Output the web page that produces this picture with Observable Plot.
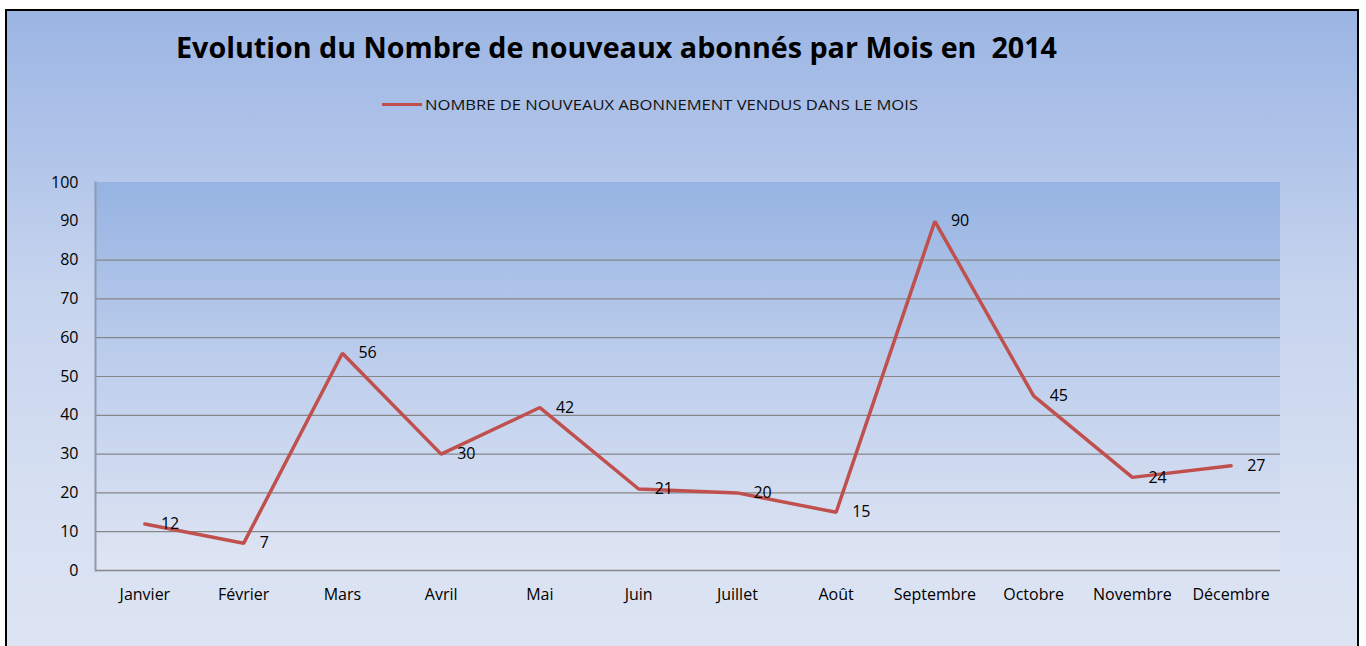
<!DOCTYPE html>
<html>
<head>
<meta charset="utf-8">
<script src="https://cdn.jsdelivr.net/npm/d3@7"></script>
<script src="https://cdn.jsdelivr.net/npm/@observablehq/plot@0.6"></script>
<style>
  html, body { margin: 0; padding: 0; background: #ffffff; width: 1366px; height: 646px; overflow: hidden; }
  #frame {
    position: absolute; left: 5px; top: 9px; width: 1350px; height: 700px;
    border: 2px solid #000;
    background: linear-gradient(to bottom, #9bb5e3 0%, #b3c6ea 22%, #c6d4ee 40%, #d7e0f2 70%, #dfe6f4 100%);
  }
  #chart { position: absolute; left: 0; top: 0; }
  #title {
    position: absolute; left: 176px; top: 33px; white-space: pre;
    font-family: "Open Sans", sans-serif; font-weight: bold; font-size: 28px; line-height: 28px;
    color: #000; transform-origin: left center;
  }
  #legend-line { position: absolute; left: 382px; top: 102.5px; width: 40px; height: 3px; background: #c0504d; }
  #legend-text {
    position: absolute; left: 425px; top: 97px; white-space: pre;
    font-family: "Open Sans", sans-serif; font-size: 15px; line-height: 15px; color: #111;
    transform-origin: left center;
  }
</style>
</head>
<body>
<div id="frame"></div>
<div id="chart"></div>
<div id="title">Evolution du Nombre de nouveaux abonnés par Mois en  2014</div>
<div id="legend-line"></div>
<div id="legend-text">NOMBRE DE NOUVEAUX ABONNEMENT VENDUS DANS LE MOIS</div>
<script>
const months = ["Janvier", "Février", "Mars", "Avril", "Mai", "Juin", "Juillet", "Août", "Septembre", "Octobre", "Novembre", "Décembre"];
const values = [12, 7, 56, 30, 42, 21, 20, 15, 90, 45, 24, 27];
const yTicks = [0, 10, 20, 30, 40, 50, 60, 70, 80, 90, 100];
const gridTicks = [10, 20, 30, 40, 50, 60, 70, 80];
const seriesColor = "#c0504d";

const data = months.map((m, i) => ({month: m, value: values[i]}));

function plotBackground(index, scales, values, dims) {
  const ns = "http://www.w3.org/2000/svg";
  const g = document.createElementNS(ns, "g");
  const defs = document.createElementNS(ns, "defs");
  const grad = document.createElementNS(ns, "linearGradient");
  grad.setAttribute("id", "plotAreaGrad");
  grad.setAttribute("x1", "0"); grad.setAttribute("y1", "0");
  grad.setAttribute("x2", "0"); grad.setAttribute("y2", "1");
  [["0%", "#96b3e2"], ["45%", "#bccdec"], ["100%", "#dfe5f3"]].forEach(([o, c]) => {
    const s = document.createElementNS(ns, "stop");
    s.setAttribute("offset", o); s.setAttribute("stop-color", c);
    grad.appendChild(s);
  });
  defs.appendChild(grad);
  g.appendChild(defs);
  const r = document.createElementNS(ns, "rect");
  r.setAttribute("x", dims.marginLeft);
  r.setAttribute("y", dims.marginTop);
  r.setAttribute("width", dims.width - dims.marginLeft - dims.marginRight);
  r.setAttribute("height", dims.height - dims.marginTop - dims.marginBottom);
  r.setAttribute("fill", "url(#plotAreaGrad)");
  g.appendChild(r);
  return g;
}

const chart = Plot.plot({
  width: 1366,
  height: 646,
  marginLeft: 95,
  marginRight: 86,
  marginTop: 182,
  marginBottom: 76,
  style: {background: "transparent", fontFamily: "'Open Sans', sans-serif", fontSize: "16px", color: "#000", overflow: "visible"},
  x: {type: "point", domain: months, padding: 0.5, round: false, label: null},
  y: {domain: [0, 100], label: null},
  marks: [
    plotBackground,
    Plot.ruleY(gridTicks, {stroke: "#868686", strokeWidth: 1.2}),
    Plot.ruleY([0], {stroke: "#868686", strokeWidth: 1.5}),
    Plot.frame({anchor: "left", stroke: "#8e9ab0", strokeWidth: 2}),
    Plot.line(data, {x: "month", y: "value", stroke: seriesColor, strokeWidth: 3.5, strokeLinejoin: "miter"}),
    Plot.text(data, {x: "month", y: "value", text: d => String(d.value), dx: 16, textAnchor: "start", fontSize: 16, fill: "#000"}),
    Plot.axisY(yTicks, {tickSize: 0, tickPadding: 17, fontSize: 16, label: null}),
    Plot.axisX(months, {tickSize: 0, tickPadding: 18, fontSize: 16, label: null})
  ]
});
document.getElementById("chart").appendChild(chart);

function fit(id, target) {
  const el = document.getElementById(id);
  el.style.transform = "none";
  const w = el.getBoundingClientRect().width;
  if (w > 0) el.style.transform = `scaleX(${target / w})`;
}
function fitAll() { fit("title", 881); fit("legend-text", 493); }
fitAll();
if (document.fonts && document.fonts.ready) document.fonts.ready.then(fitAll);
</script>
</body>
</html>
